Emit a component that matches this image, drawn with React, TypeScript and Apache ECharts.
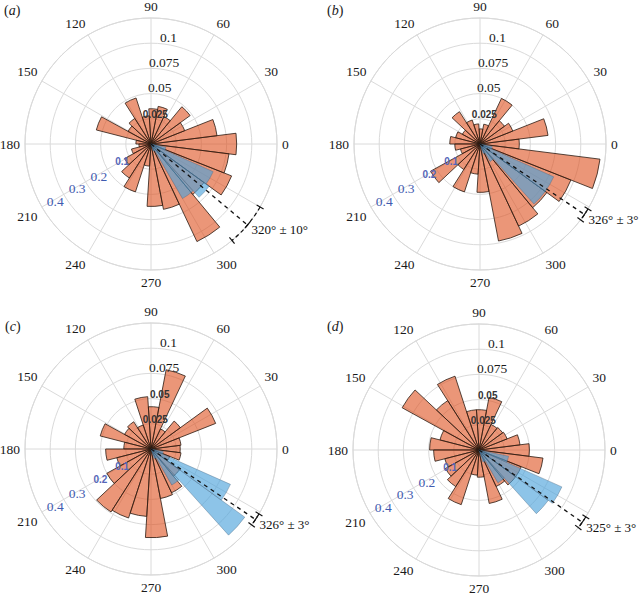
import React, { useEffect, useRef } from "react";
import * as echarts from "echarts";

// ---- data ----
const binCenters = [0, 14.4, 28.8, 43.2, 57.6, 72, 86.4, 100.8, 115.2, 129.6, 144, 158.4, 172.8, 187.2, 201.6, 216, 230.4, 244.8, 259.2, 273.6, 288, 302.4, 316.8, 331.2, 345.6];
const binWidth = 14.4;
const blueCenters = [294, 306, 318, 330, 342];
const blueBinWidth = 12;
const angleTicks = [0, 30, 60, 90, 120, 150, 180, 210, 240, 270, 300];
const panelLetters = ["a", "b", "c", "d"];

const orangeA = [0.085, 0.066, 0.036, 0.048, 0.03, 0.038, 0.035, 0.028, 0.048, 0.03, 0.026, 0.056, 0.015, 0.012, 0.02, 0.03, 0.04, 0.05, 0.022, 0.062, 0.066, 0.107, 0.065, 0.086, 0.078];
const orangeB = [0.039, 0.068, 0.035, 0.03, 0.05, 0.02, 0.015, 0.02, 0.025, 0.038, 0.02, 0.025, 0.03, 0.025, 0.02, 0.056, 0.03, 0.05, 0.03, 0.048, 0.098, 0.09, 0.082, 0.097, 0.12];
const orangeC = [0.029, 0.03, 0.069, 0.036, 0.022, 0.08, 0.042, 0.052, 0.025, 0.032, 0.03, 0.052, 0.027, 0.045, 0.035, 0.05, 0.074, 0.072, 0.067, 0.088, 0.05, 0.048, 0.035, 0.02, 0.03];
const orangeD = [0.05, 0.041, 0.03, 0.029, 0.028, 0.053, 0.04, 0.04, 0.077, 0.058, 0.087, 0.04, 0.049, 0.045, 0.035, 0.038, 0.043, 0.057, 0.025, 0.027, 0.054, 0.04, 0.045, 0.045, 0.064];

const blueA = [0.03, 0.25, 0.285, 0.27, 0.06];
const blueB = [0.04, 0.08, 0.32, 0.32, 0.05];
const blueC = [0.04, 0.165, 0.46, 0.345, 0.05];
const blueD = [0.05, 0.15, 0.34, 0.36, 0.12];

const orangeSets = [orangeA, orangeB, orangeC, orangeD];
const blueSets = [blueA, blueB, blueC, blueD];
const meanDirs = [320, 326, 326, 325];
const meanErrs = [10, 3, 3, 3];
const orangeSmallTicks = [[0.025], [0.025], [0.025, 0.05], [0.025, 0.05]];
const blueSmallTicks = [[0.1], [0.1, 0.2], [0.1, 0.2], [0.1]];
const orangeMax = 0.125;
const blueMax = 0.5;

// ---- layout / style ----
const centers = [[151, 144], [480, 144], [151, 449], [479, 450]];
const R = 126;
const letterPos = [[4, 3], [327, 3], [5, 319], [327, 319]];
const SERIF = "Liberation Serif";
const SANS = "Liberation Sans";
const GRID = "#dadada";
const ORANGE = "rgba(222,80,30,0.6)";
const ORANGE_EDGE = "#2a1a12";
const BLUE = "rgba(74,161,218,0.63)";
const BLUE_EDGE = "rgba(70,100,125,0.55)";
const BLUE_TEXT = "#3f5bb0";

const fmt = (v: number) => String(Number(v.toFixed(3)));

function sectorRenderer(width: number, fill: string, stroke: string, lw: number) {
  return (params: any, api: any) => {
    const v = api.value(0);
    const c = api.value(1);
    const cs = params.coordSys;
    const p0 = api.coord([v, c - width / 2]);
    const p1 = api.coord([v, c + width / 2]);
    const r = Math.hypot(p0[0] - cs.cx, p0[1] - cs.cy);
    const a0 = Math.atan2(p0[1] - cs.cy, p0[0] - cs.cx);
    const a1 = Math.atan2(p1[1] - cs.cy, p1[0] - cs.cx);
    let d = a0 - a1;
    while (d < 0) d += Math.PI * 2;
    return {
      type: "sector",
      shape: { cx: cs.cx, cy: cs.cy, r0: 0, r, startAngle: a1, endAngle: a1 + d, clockwise: true },
      style: { fill, stroke, lineWidth: lw },
    };
  };
}

function annotationRenderer(params: any, api: any) {
  const rv = api.value(0);
  const m = api.value(1);
  const e = api.value(2);
  const cs = params.coordSys;
  const pm = api.coord([rv, m]);
  const pa = api.coord([rv, m - e]);
  const pb = api.coord([rv, m + e]);
  const r = Math.hypot(pm[0] - cs.cx, pm[1] - cs.cy);
  const ang = (p: number[]) => Math.atan2(p[1] - cs.cy, p[0] - cs.cx);
  const capLen = 4;
  const cap = (a: number) => ({
    type: "line",
    shape: {
      x1: cs.cx + (r - capLen) * Math.cos(a),
      y1: cs.cy + (r - capLen) * Math.sin(a),
      x2: cs.cx + (r + capLen) * Math.cos(a),
      y2: cs.cy + (r + capLen) * Math.sin(a),
    },
    style: { stroke: "#111", lineWidth: 1.2 },
  });
  const aA = ang(pa);
  const aB = ang(pb);
  let d = aA - aB;
  while (d < 0) d += Math.PI * 2;
  const am = ang(pm);
  return {
    type: "group",
    children: [
      {
        type: "line",
        shape: { x1: cs.cx, y1: cs.cy, x2: pm[0], y2: pm[1] },
        style: { stroke: "#111", lineWidth: 1.3, lineDash: [4, 4] },
      },
      {
        type: "arc",
        shape: { cx: cs.cx, cy: cs.cy, r, startAngle: aB, endAngle: aB + d, clockwise: true },
        style: { stroke: "#111", fill: "none", lineWidth: 1.2, lineDash: [4, 3] },
      },
      cap(aA),
      cap(aB),
      {
        type: "line",
        shape: {
          x1: pm[0] - 4 * Math.sin(am), y1: pm[1] + 4 * Math.cos(am),
          x2: pm[0] + 4 * Math.sin(am), y2: pm[1] - 4 * Math.cos(am),
        },
        style: { stroke: "#111", lineWidth: 1.2 },
      },
      {
        type: "text",
        x: pm[0] + 4,
        y: pm[1] + 5,
        style: {
          text: `${m}° ± ${e}°`,
          fill: "#111",
          fontSize: 13,
          fontFamily: SERIF,
          align: "left",
          verticalAlign: "middle",
        },
      },
    ],
  };
}

function buildOption() {
  const polar: any[] = [];
  const angleAxis: any[] = [];
  const radiusAxis: any[] = [];
  const series: any[] = [];
  const graphic: any[] = [];

  for (let k = 0; k < 4; k++) {
    const base = k * 4;
    const center = centers[k];
    const oSmall = orangeSmallTicks[k];
    const bSmall = blueSmallTicks[k];

    polar.push({ center, radius: R });
    angleAxis.push({
      polarIndex: base,
      type: "value",
      min: 0,
      max: 360,
      interval: 30,
      startAngle: 0,
      clockwise: false,
      axisLine: { show: true, lineStyle: { color: GRID, width: 1 } },
      axisTick: { show: false },
      splitLine: { show: true, lineStyle: { color: GRID, width: 1 } },
      axisLabel: {
        margin: 5,
        color: "#1a1a1a",
        fontSize: 13.5,
        fontFamily: SERIF,
        formatter: (v: number) => (angleTicks.includes(v) ? String(v) : ""),
      },
    });
    radiusAxis.push({
      polarIndex: base,
      type: "value",
      min: 0,
      max: orangeMax,
      interval: 0.025,
      axisLine: { show: false },
      axisTick: { show: false },
      axisLabel: { show: false },
      splitLine: { show: true, lineStyle: { color: GRID, width: 1 } },
    });

    polar.push({ center, radius: R });
    angleAxis.push({ polarIndex: base + 1, type: "value", min: 0, max: 360, startAngle: 80, clockwise: false, show: false });
    radiusAxis.push({
      polarIndex: base + 1,
      type: "value",
      min: 0,
      max: orangeMax,
      interval: 0.025,
      z: 10,
      axisLine: { show: false },
      axisTick: { show: false },
      splitLine: { show: false },
      axisLabel: {
        show: true,
        margin: 0,
        align: "center",
        verticalAlign: "bottom",
        formatter: (v: number) => {
          if (v <= 0 || v >= orangeMax - 1e-9) return "";
          const s = fmt(v);
          return oSmall.some((t) => Math.abs(t - v) < 1e-9) ? `{s|${s}}` : `{n|${s}}`;
        },
        rich: {
          n: { fontSize: 13.5, fontFamily: SERIF, color: "#1a1a1a" },
          s: { fontSize: 10, fontWeight: "bold", fontFamily: SANS, color: "#333" },
        },
      },
    });

    polar.push({ center, radius: R });
    angleAxis.push({ polarIndex: base + 2, type: "value", min: 0, max: 360, startAngle: 0, clockwise: false, show: false });
    radiusAxis.push({ polarIndex: base + 2, type: "value", min: 0, max: blueMax, show: false });

    polar.push({ center, radius: R });
    angleAxis.push({ polarIndex: base + 3, type: "value", min: 0, max: 360, startAngle: 210, clockwise: false, show: false });
    radiusAxis.push({
      polarIndex: base + 3,
      type: "value",
      min: 0,
      max: blueMax,
      interval: 0.1,
      z: 10,
      axisLine: { show: false },
      axisTick: { show: false },
      splitLine: { show: false },
      axisLabel: {
        show: true,
        margin: 0,
        align: "right",
        verticalAlign: "top",
        formatter: (v: number) => {
          if (v <= 0 || v >= blueMax - 1e-9) return "";
          const s = fmt(v);
          return bSmall.some((t) => Math.abs(t - v) < 1e-9) ? `{s|${s}}` : `{n|${s}}`;
        },
        rich: {
          n: { fontSize: 13.5, fontFamily: SERIF, color: BLUE_TEXT },
          s: { fontSize: 10, fontWeight: "bold", fontFamily: SANS, color: "#5566b8" },
        },
      },
    });

    const orange = orangeSets[k];
    const blue = blueSets[k];

    series.push({
      type: "custom",
      coordinateSystem: "polar",
      polarIndex: base,
      clip: false,
      z: 2,
      renderItem: sectorRenderer(binWidth, ORANGE, ORANGE_EDGE, 0.8),
      data: binCenters.map((c, i) => [orange[i], c]),
    });
    series.push({
      type: "custom",
      coordinateSystem: "polar",
      polarIndex: base + 2,
      clip: false,
      z: 3,
      renderItem: sectorRenderer(blueBinWidth, BLUE, BLUE_EDGE, 0.7),
      data: blueCenters.map((c, i) => [blue[i], c]).filter((d) => d[0] > 0),
    });
    series.push({
      type: "custom",
      coordinateSystem: "polar",
      polarIndex: base,
      clip: false,
      z: 5,
      renderItem: annotationRenderer,
      data: [[orangeMax, meanDirs[k], meanErrs[k]]],
    });

    graphic.push({
      type: "text",
      left: letterPos[k][0],
      top: letterPos[k][1],
      style: {
        text: `({i|${panelLetters[k]}})`,
        fill: "#1a1a1a",
        fontSize: 14,
        fontFamily: SERIF,
        rich: { i: { fontStyle: "italic", fontSize: 14, fontFamily: SERIF, fill: "#1a1a1a" } },
      },
    });
  }

  return { animation: false, polar, angleAxis, radiusAxis, series, graphic };
}

export default function App() {
  const ref = useRef<HTMLDivElement>(null);
  useEffect(() => {
    if (!ref.current) return;
    const chart = echarts.init(ref.current, undefined, { renderer: "svg" });
    chart.setOption(buildOption() as any);
    return () => chart.dispose();
  }, []);
  return (
    <div
      ref={ref}
      style={{ position: "absolute", left: 0, top: 0, width: 640, height: 594, background: "#fff" }}
    />
  );
}
